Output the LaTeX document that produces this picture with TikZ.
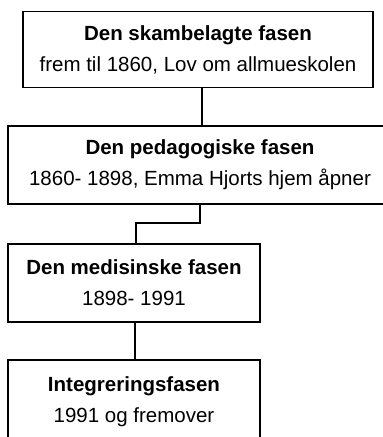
\documentclass[tikz,border=0pt]{standalone}
\usepackage{fontspec}
\setmainfont{Liberation Sans}
\begin{document}
\begin{tikzpicture}[x=1pt,y=-1pt,
  phase/.style={draw=black, line width=1.4pt, rectangle, inner sep=0pt, align=center,
    font=\fontsize{20.5}{31}\selectfont},
  link/.style={draw=black, line width=1.4pt}]
\useasboundingbox (0,0) rectangle (383,437);
\clip (0,0) rectangle (383,437);
\node[phase, minimum width=350, minimum height=76] (b1) at (198,49.5)
  {\textbf{Den skambelagte fasen}\\frem til 1860, Lov om allmueskolen};
\node[phase, minimum width=384, minimum height=78] (b2) at (200,165)
  {\textbf{Den pedagogiske fasen}\\1860- 1898, Emma Hjorts hjem åpner};
\node[phase, minimum width=252, minimum height=78] (b3) at (134,283)
  {\textbf{Den medisinske fasen}\\1898- 1991};
\node[phase, minimum width=252, minimum height=84] (b4) at (134,402)
  {\textbf{Integreringsfasen}\\1991 og fremover};
\coordinate (k1) at (200,223);
\coordinate (k2) at (136,223);
\draw[link] (b1.south -| 202,0) -- (b2.north -| 202,0);
\draw[link] (b2.south -| k1) -- (k1) -- (k2) -- (b3.north -| k2);
\draw[link] (b3.south -| 135,0) -- (b4.north -| 135,0);
\end{tikzpicture}
\end{document}
